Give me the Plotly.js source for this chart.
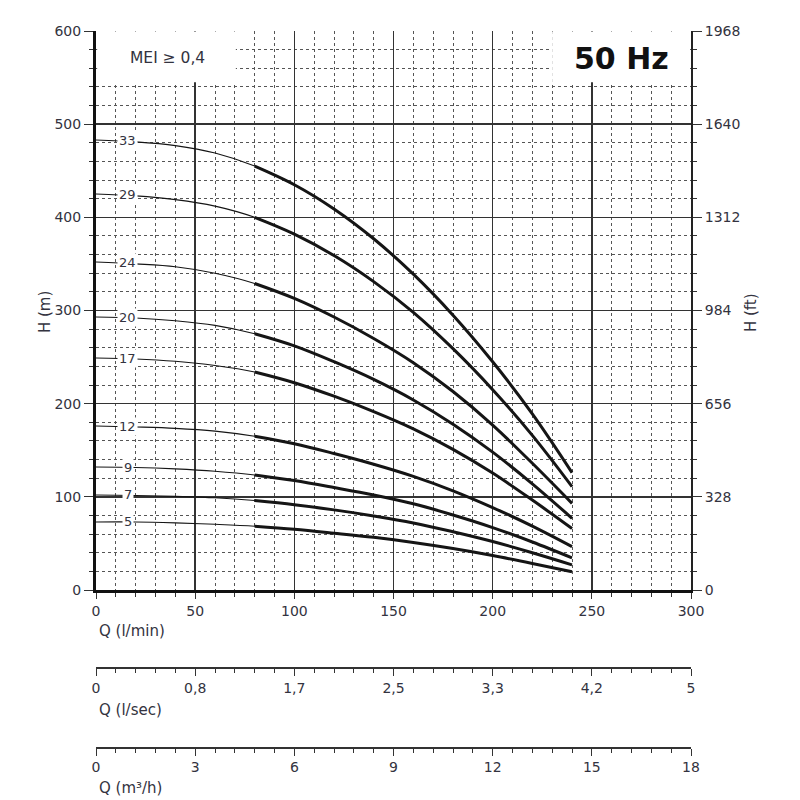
<!DOCTYPE html>
<html>
<head>
<meta charset="utf-8">
<script src="https://cdn.plot.ly/plotly-3.0.1.min.js"></script>
<style>html,body{margin:0;padding:0;background:#fff;}#chart{width:800px;height:800px;}</style>
</head>
<body>
<div id="chart"></div>
<script>
// Flow points (l/min)
const flowQ = [0, 20, 40, 60, 80, 100, 120, 140, 160, 180, 200, 220, 240];
// Head (m) per number of stages
const stages = ['33', '29', '24', '20', '17', '12', '9', '7', '5'];
const H33 = [483, 481, 477, 469, 455, 435, 409, 377, 339, 295, 245, 189, 126];
const H29 = [425, 423, 419, 412, 400, 382, 359, 331, 298, 259, 215, 166, 111];
const H24 = [352, 350, 347, 340, 329, 313, 293, 270, 244, 213, 177, 136, 93];
const H20 = [293, 292, 289, 284, 275, 262, 245, 226, 204, 178, 148, 114, 77];
const H17 = [249, 248, 245.5, 241, 234, 222.5, 208, 191.5, 173, 151, 125.5, 96.5, 66];
const H12 = [176, 175, 173.5, 170.5, 165, 157, 146.5, 135, 122, 106.5, 88.5, 68.5, 46.5];
const H9  = [132, 131.5, 130, 127.5, 123.5, 117.5, 110, 102, 92.5, 80.5, 67, 51.5, 34.5];
const H7  = [102, 101.5, 100.5, 99, 96, 91.5, 86, 79.5, 72, 62.5, 52, 40, 27];
const H5  = [73, 73, 72, 70.5, 68.5, 65.2, 61, 56.5, 51, 44.5, 37, 28.5, 19.5];
const heads = [H33, H29, H24, H20, H17, H12, H9, H7, H5];

// Tick labels
const yMTicks = [0, 100, 200, 300, 400, 500, 600];
const yFtLabels = ['0', '328', '656', '984', '1312', '1640', '1968'];
const qTicks = [0, 50, 100, 150, 200, 250, 300];
const lsecLabels = ['0', '0,8', '1,7', '2,5', '3,3', '4,2', '5'];
const m3hLabels = ['0', '3', '6', '9', '12', '15', '18'];

const FONT = 'DejaVu Sans, Verdana, sans-serif';
const TXT = '#333340';
const thickFrom = 4; // thick line from 80 l/min onwards

const traces = [];
heads.forEach((h) => {
  traces.push({x: flowQ, y: h, mode: 'lines',
    line: {color: '#151515', width: 1.1, shape: 'spline', smoothing: 1},
    showlegend: false, hoverinfo: 'skip'});
  traces.push({x: flowQ.slice(thickFrom), y: h.slice(thickFrom), mode: 'lines',
    line: {color: '#151515', width: 3, shape: 'spline', smoothing: 1},
    showlegend: false, hoverinfo: 'skip'});
});
// dummy traces so the extra axes are drawn
traces.push({x: [0, 300], y: [null, null], xaxis: 'x2', yaxis: 'y', mode: 'lines', showlegend: false, hoverinfo: 'skip'});
traces.push({x: [0, 300], y: [null, null], xaxis: 'x3', yaxis: 'y', mode: 'lines', showlegend: false, hoverinfo: 'skip'});
traces.push({x: [0, 300], y: [null, null], xaxis: 'x', yaxis: 'y2', mode: 'lines', showlegend: false, hoverinfo: 'skip'});

const annotations = stages.map((s, i) => ({
  x: 16, y: heads[i][0], xref: 'x', yref: 'y', text: s, showarrow: false,
  font: {family: FONT, size: 13, color: TXT}, bgcolor: '#ffffff', borderpad: 1,
  xanchor: 'center', yanchor: 'middle'
}));
const titleFont = {family: FONT, size: 15, color: TXT};
annotations.push(
  {x: 36, y: 571, xref: 'x', yref: 'y', text: 'MEI ≥ 0,4', showarrow: false,
   xanchor: 'center', font: {family: FONT, size: 15.5, color: TXT}},
  {x: 265, y: 571, xref: 'x', yref: 'y', text: '<b>50 Hz</b>', showarrow: false,
   xanchor: 'center', font: {family: 'DejaVu Sans, sans-serif', size: 30, color: '#111'}},
  {x: 0.002, y: 0.177, xref: 'paper', yref: 'paper', text: 'Q (l/min)', showarrow: false,
   xanchor: 'left', yanchor: 'middle', font: titleFont},
  {x: 0.002, y: 0.0686, xref: 'paper', yref: 'paper', text: 'Q (l/sec)', showarrow: false,
   xanchor: 'left', yanchor: 'middle', font: titleFont},
  {x: 0.002, y: -0.0384, xref: 'paper', yref: 'paper', text: 'Q (m³/h)', showarrow: false,
   xanchor: 'left', yanchor: 'middle', font: titleFont},
  {x: -0.0845, y: 0.614, xref: 'paper', yref: 'paper', text: 'H (m)', showarrow: false,
   xanchor: 'center', yanchor: 'middle', textangle: -90, font: titleFont},
  {x: 1.102, y: 0.614, xref: 'paper', yref: 'paper', text: 'H (ft)', showarrow: false,
   xanchor: 'center', yanchor: 'middle', textangle: -90, font: titleFont}
);

const minorGrid = {showgrid: true, griddash: 'dot', gridcolor: '#555', gridwidth: 1,
  ticks: 'outside', ticklen: 4, tickcolor: '#333'};

const layout = {
  width: 800, height: 800,
  margin: {l: 96, r: 109, t: 31, b: 40},
  paper_bgcolor: '#fff', plot_bgcolor: '#fff',
  font: {family: FONT, size: 14, color: TXT},
  showlegend: false,
  xaxis: {range: [0, 300], tickmode: 'linear', tick0: 0, dtick: 50,
    showgrid: true, gridcolor: '#333', gridwidth: 1.4,
    showline: true, linecolor: '#111', linewidth: 3,
    ticks: 'outside', ticklen: 6, tickcolor: '#333', zeroline: false,
    minor: Object.assign({dtick: 10}, minorGrid),
    tickfont: {family: FONT, size: 14, color: TXT}, fixedrange: true},
  yaxis: {range: [0, 600], domain: [0.2332, 1], tickmode: 'linear', tick0: 0, dtick: 100,
    showgrid: true, gridcolor: '#333', gridwidth: 1.4,
    showline: true, linecolor: '#111', linewidth: 3,
    ticks: 'outside', ticklen: 9, tickcolor: '#333', zeroline: false,
    minor: Object.assign({dtick: 20}, minorGrid),
    tickfont: {family: FONT, size: 14, color: TXT}, fixedrange: true},
  yaxis2: {range: [0, 600], overlaying: 'y', side: 'right', anchor: 'x',
    tickmode: 'array', tickvals: yMTicks, ticktext: yFtLabels,
    showgrid: false, zeroline: false, showline: true, linecolor: '#222', linewidth: 2,
    ticks: 'outside', ticklen: 9, tickcolor: '#333',
    minor: {dtick: 20, ticks: 'outside', ticklen: 4, tickcolor: '#333', showgrid: false},
    tickfont: {family: FONT, size: 14, color: TXT}, fixedrange: true},
  xaxis2: {range: [0, 300], overlaying: 'x', anchor: 'free', position: 0.1269, side: 'bottom',
    tickmode: 'array', tickvals: qTicks, ticktext: lsecLabels,
    showgrid: false, zeroline: false, showline: true, linecolor: '#333', linewidth: 1.5,
    ticks: 'outside', ticklen: 7, tickcolor: '#333',
    minor: {dtick: 10, ticks: 'outside', ticklen: 4, tickcolor: '#333', showgrid: false},
    tickfont: {family: FONT, size: 14, color: TXT}, fixedrange: true},
  xaxis3: {range: [0, 300], overlaying: 'x', anchor: 'free', position: 0.0178, side: 'bottom',
    tickmode: 'array', tickvals: qTicks, ticktext: m3hLabels,
    showgrid: false, zeroline: false, showline: true, linecolor: '#333', linewidth: 1.5,
    ticks: 'outside', ticklen: 7, tickcolor: '#333',
    minor: {dtick: 10, ticks: 'outside', ticklen: 4, tickcolor: '#333', showgrid: false},
    tickfont: {family: FONT, size: 14, color: TXT}, fixedrange: true},
  shapes: [
    {type: 'rect', xref: 'x', yref: 'y', x0: 0.6, x1: 70.5, y0: 545, y1: 599.5,
     fillcolor: '#fff', line: {width: 0}, layer: 'between'},
    {type: 'rect', xref: 'x', yref: 'y', x0: 230, x1: 299.5, y0: 545, y1: 599.5,
     fillcolor: '#fff', line: {width: 0}, layer: 'between'}
  ],
  annotations: annotations
};

Plotly.newPlot('chart', traces, layout, {staticPlot: true, displayModeBar: false});
</script>
</body>
</html>
